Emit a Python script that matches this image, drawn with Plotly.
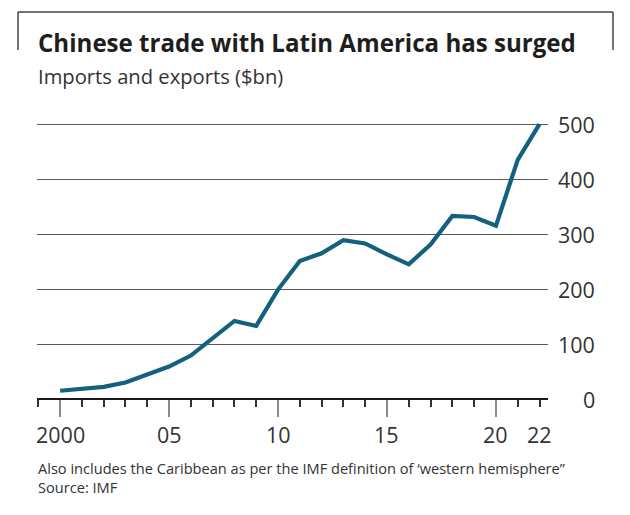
import plotly.graph_objects as go

years = list(range(2000, 2023))
trade_bn = [15, 19, 22, 30, 45, 59, 79, 111, 142, 133, 199, 251, 265, 289, 283, 263, 245, 281, 333, 331, 315, 435, 500]
y_ticks = [0, 100, 200, 300, 400, 500]
x_label_vals = [2000, 2005, 2010, 2015, 2020, 2022]
x_label_text = ["2000", "05", "10", "15", "20", "22"]
x_major = [2000, 2005, 2010, 2015, 2020]

title = "Chinese trade with Latin America has surged"
subtitle = "Imports and exports ($bn)"
note = "Also includes the Caribbean as per the IMF definition of ‘western hemisphere”"
source = "Source: IMF"

W, H = 630, 515
L, R, T, B = 37, 82, 123, 116
PW, PH = W - L - R, H - T - B

def px_x(p):
    return (p - L) / PW

def px_y(p):
    return (H - B - p) / PH

font = "'Open Sans', sans-serif"

fig = go.Figure()
fig.add_trace(go.Scatter(
    x=years, y=trade_bn, mode="lines",
    line=dict(color="#13607f", width=4.2),
    cliponaxis=False, hoverinfo="skip"))

fig.update_layout(
    width=W, height=H,
    margin=dict(l=L, r=R, t=T, b=B),
    paper_bgcolor="white", plot_bgcolor="white",
    showlegend=False,
    font=dict(family=font, color="#333333"),
    xaxis=dict(
        range=[1998.94, 2022.39], tickvals=x_major, showticklabels=False,
        ticks="outside", ticklen=17, tickwidth=2, tickcolor="#8a8a8a",
        showgrid=False, zeroline=False, showline=False,
        minor=dict(dtick=1, tick0=2000, ticks="outside", ticklen=7,
                   tickwidth=1.5, tickcolor="#333", showgrid=False),
    ),
    yaxis=dict(
        range=[0, 502], tickvals=y_ticks, side="right",
        showgrid=True, gridcolor="#5a5a5a", gridwidth=1,
        zeroline=True, zerolinecolor="#1a1a1a", zerolinewidth=2,
        ticks="", showticklabels=False, showline=False,
    ),
)

annos = [
    dict(text="<b>" + title + "</b>", y=42, size=24.1, color="#1e1e1e"),
    dict(text=subtitle, y=76, size=20.2, color="#333"),
    dict(text=note, y=468, size=14.6, color="#333"),
    dict(text=source, y=487, size=14.6, color="#333"),
]
for a in annos:
    fig.add_annotation(text=a["text"], xref="paper", yref="paper", x=px_x(36), y=px_y(a["y"]),
                       xanchor="left", yanchor="middle", showarrow=False,
                       font=dict(size=a["size"], color=a["color"], family=font))

for v in y_ticks:
    fig.add_annotation(text=str(v), xref="paper", yref="y", x=px_x(597), y=v,
                       xanchor="right", yanchor="middle", showarrow=False,
                       font=dict(size=21.5, color="#333", family=font))

for v, t in zip(x_label_vals, x_label_text):
    fig.add_annotation(text=t, xref="x", yref="paper", x=v, y=px_y(434),
                       xanchor="center", yanchor="middle", showarrow=False,
                       font=dict(size=21.5, color="#333", family=font))

# partial frame at top
for x0, y0, x1, y1 in [(18, 12, 613, 12), (18, 12, 18, 50), (613, 12, 613, 50)]:
    fig.add_shape(type="line", xref="paper", yref="paper",
                  x0=px_x(x0), y0=px_y(y0), x1=px_x(x1), y1=px_y(y1),
                  line=dict(color="#444", width=1.5))

fig.write_html("out.html", config={"displayModeBar": False},
               post_script="document.body.style.margin='0';document.body.style.padding='0';")
